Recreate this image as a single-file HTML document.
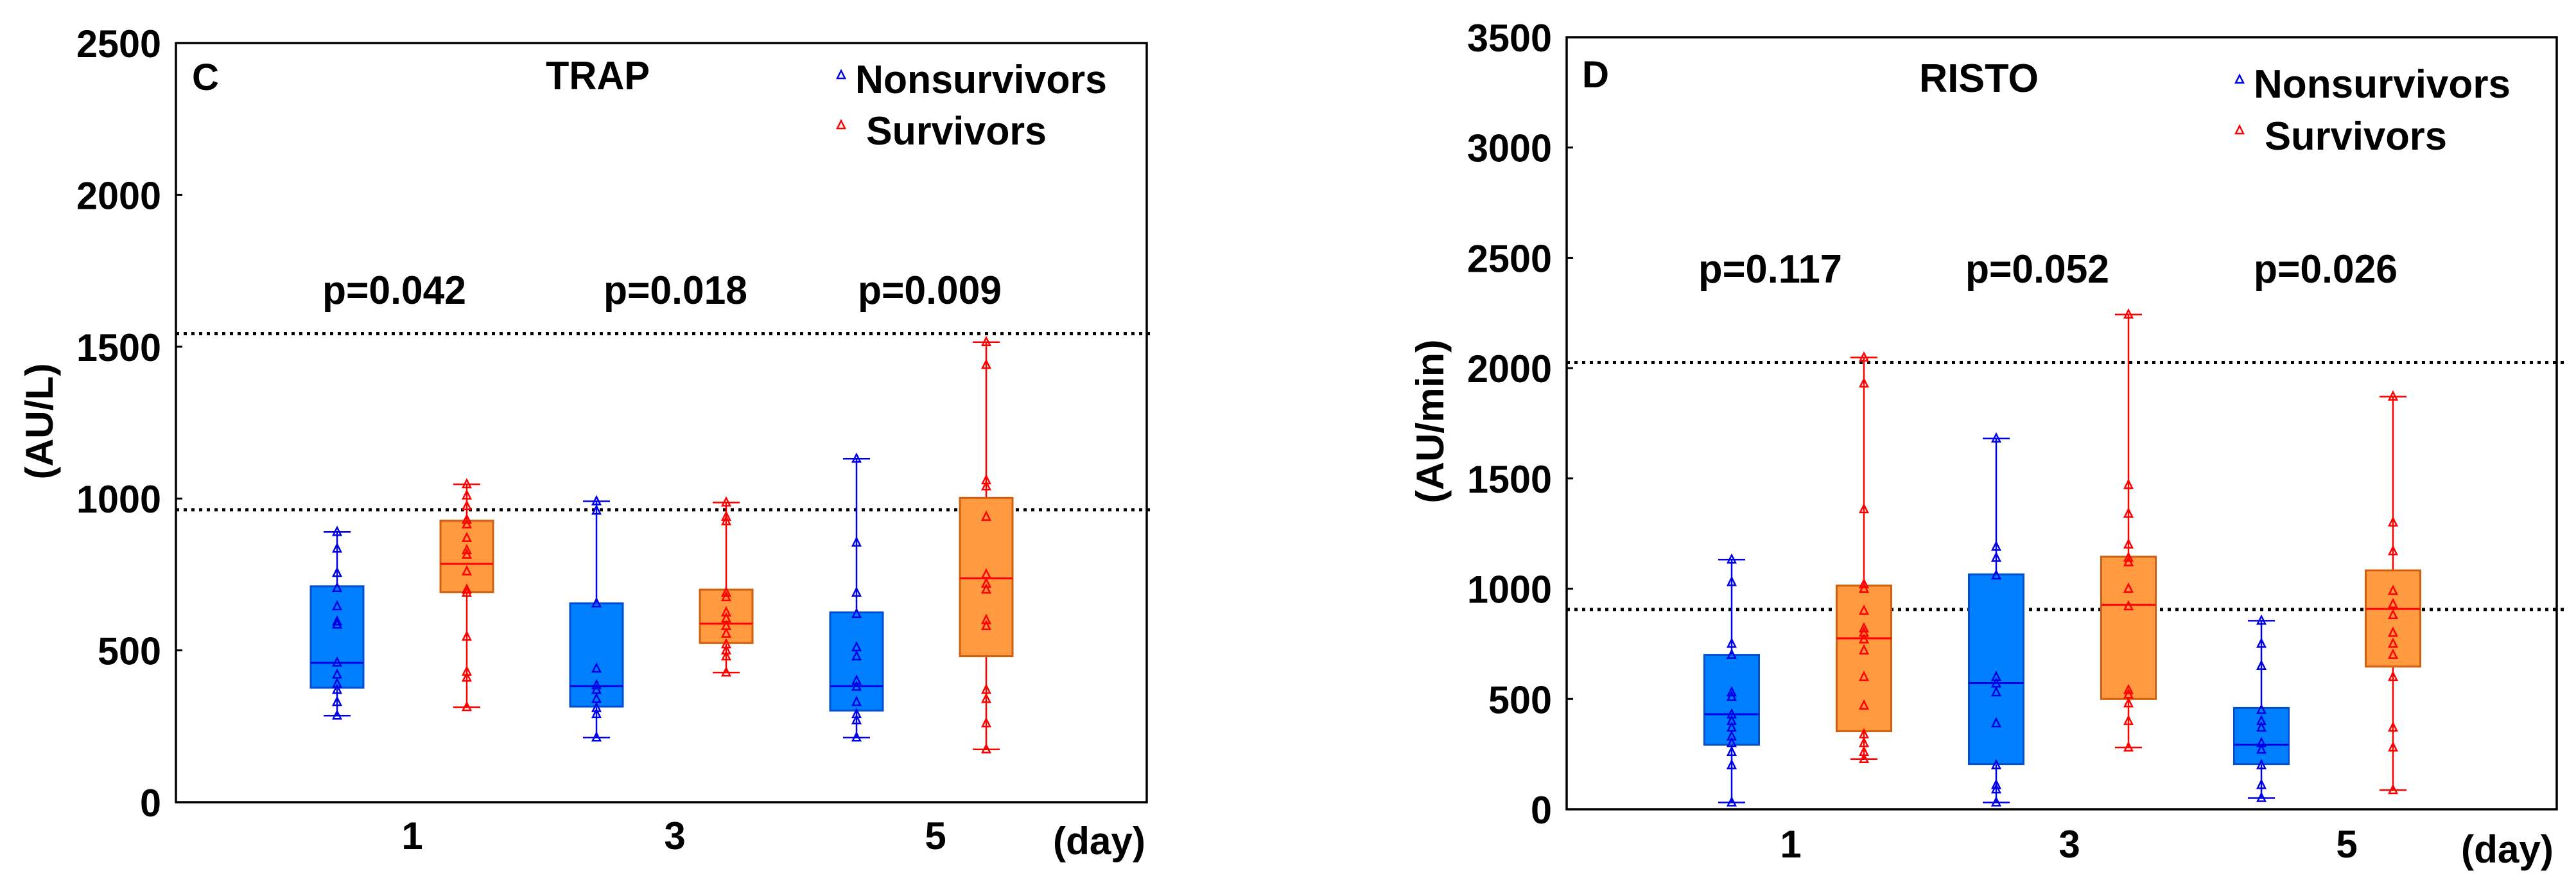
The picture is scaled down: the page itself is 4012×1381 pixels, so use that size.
<!DOCTYPE html>
<html><head><meta charset="utf-8"><style>
html,body{margin:0;padding:0;background:#fff;overflow:hidden}
svg{display:block}
text{font-family:"Liberation Sans",sans-serif;font-weight:bold;fill:#000}
</style></head><body>
<svg id="chart" width="4012" height="1381" viewBox="0 0 4012 1381" xmlns="http://www.w3.org/2000/svg"></svg>
<script>
// ---- Panel C (TRAP) data ----
const daysC = ["1","3","5"];
const yTicksC = [0,500,1000,1500,2000,2500];
const pLabelsC = ["p=0.042","p=0.018","p=0.009"];
const refLinesC = [1543,963];
const nonBoxC = [[377,459,711],[315,382,655],[302,382,625]];
const nonWhiskC = [[285,890],[213,991],[213,1131]];
const nonPtsC = [[890,835,755,705,645,595,585,460,420,390,370,330,285],[991,960,655,440,385,370,340,310,290,213],[1131,855,690,620,510,480,400,380,330,290,270,213]];
const surBoxC = [[692,785,927],[524,588,700],[481,737,1002]];
const surWhiskC = [[313,1047],[427,987],[174,1515]];
const surPtsC = [[1047,1010,975,930,915,870,830,815,760,700,690,545,430,410,313],[987,940,925,690,675,625,605,580,555,520,500,480,427],[1515,1440,1060,1040,940,750,720,700,600,580,370,340,260,174]];
// ---- Panel D (RISTO) data ----
const daysD = ["1","3","5"];
const yTicksD = [0,500,1000,1500,2000,2500,3000,3500];
const pLabelsD = ["p=0.117","p=0.052","p=0.026"];
const refLinesD = [2025,906];
const nonBoxD = [[293,431,700],[205,572,1065],[205,293,459]];
const nonWhiskD = [[31,1132],[31,1681],[51,855]];
const nonPtsD = [[1132,1030,750,700,530,510,430,400,370,330,300,260,200,31],[1681,1190,1140,1060,600,570,530,390,200,110,90,31],[855,750,650,450,400,370,300,270,200,110,51]];
const surBoxD = [[354,775,1014],[500,927,1145],[647,908,1083]];
const surWhiskD = [[228,2048],[280,2243],[87,1871]];
const surPtsD = [[2048,1930,1360,1020,1000,900,820,800,770,720,600,470,340,300,260,228],[2243,1470,1340,1200,1140,1120,1000,920,540,520,480,400,280],[1871,1300,1170,990,930,880,800,750,700,600,370,280,87]];

const NS="http://www.w3.org/2000/svg";
const svg=document.getElementById('chart');
function mk(tag,attrs,parent){const e=document.createElementNS(NS,tag);for(const k in attrs)e.setAttribute(k,attrs[k]);(parent||svg).appendChild(e);return e;}
function txt(s,x,y,size,len,anchor,parent){const t=mk('text',{x:x,y:y,'font-size':size,'text-anchor':anchor||'middle'},parent);if(len){t.setAttribute('textLength',len);t.setAttribute('lengthAdjust','spacingAndGlyphs');}t.textContent=s;return t;}
function tri(x,y,color,g){return mk('path',{d:`M${x},${y-7} L${x+6},${y+5} L${x-6},${y+5} Z`,fill:'none',stroke:color,'stroke-width':2.5},g);}

function panel(P){
  const g=mk('g',{});
  
  
  const y=v=>P.bottom-v/P.yMax*(P.bottom-P.top);
  P.yTicks.forEach(v=>{
    const l=mk('line',{x1:P.left,x2:P.left+10,y1:y(v),y2:y(v),stroke:'#000','stroke-width':3},g);
    
    
    const t=txt(String(v),P.left-23,y(v)+22,60,String(v).length*33,'end',g);
    
    
  });
  P.refLines.forEach(v=>{
    const l=mk('line',{x1:P.left,x2:P.right+12,y1:y(v),y2:y(v),stroke:'#000','stroke-width':5,'stroke-dasharray':'5 7'},g);
    
    
  });
  const groups=[[P.nonBox,P.nonWhisk,P.nonPts,P.nonX,'#0080ff','#0050d0','#0000e6','nonsurvivors'],[P.surBox,P.surWhisk,P.surPts,P.surX,'#ff9a40','#d0600f','#ff0000','survivors']];
  groups.forEach(([box,wh,pts,xs,fill,stroke,pc,nm])=>{
    box.forEach((b,i)=>{
      const cx=xs[i],hw=P.bw/2;
      const wl=mk('line',{x1:cx,x2:cx,y1:y(wh[i][0]),y2:y(wh[i][1]),stroke:pc,'stroke-width':2.5},g);
      
      
      [0,1].forEach(k=>{const c=mk('line',{x1:cx-21,x2:cx+21,y1:y(wh[i][k]),y2:y(wh[i][k]),stroke:pc,'stroke-width':2.5},g);
        
        });
      const r=mk('rect',{x:cx-hw,y:y(b[2]),width:P.bw,height:y(b[0])-y(b[2]),fill:fill,stroke:stroke,'stroke-width':3},g);
      
      
      const m=mk('line',{x1:cx-hw,x2:cx+hw,y1:y(b[1]),y2:y(b[1]),stroke:pc,'stroke-width':3},g);
      
      
      pts[i].forEach(v=>{const t=tri(cx,y(v),pc,g);
        
        });
    });
  });
  const fr=mk('rect',{x:P.left,y:P.top,width:P.right-P.left,height:P.bottom-P.top,fill:'none',stroke:'#000','stroke-width':3.5},g);
  
  
  P.days.forEach((d,i)=>{const t=txt(d,P.dayX[i],P.labY+22,60,null,'middle',g);
    
    });
  const dl=txt('(day)',P.dayLabX,P.labY+30,60,144,'middle',g);
  
  
  P.pLabels.forEach((s,i)=>{const t=txt(s,P.pX[i],P.pY+22,62,224,'middle',g);
    
    });
  const lt=txt(P.letter,P.letterX,P.letterY+21,58,42,'middle',g);
  
  
  const tt=txt(P.title,P.titleX,P.titleY+22,62,P.titleW,'middle',g);
  
  
  const t1=tri(P.legX,P.legY1-6,'#0000e6',g);
  
  
  const l1=txt('Nonsurvivors',P.legX+22,P.legY1+22,62,P.legW1,'start',g);
  
  
  const t2=tri(P.legX,P.legY2-8,'#ff0000',g);
  
  
  const l2=txt('Survivors',P.legX+39,P.legY2+22,62,P.legW2,'start',g);
  
  
  const yt=mk('text',{x:0,y:0,'font-size':60,'text-anchor':'middle',transform:`translate(${P.ytX+21},${P.ytY}) rotate(-90)`,textLength:P.ytW,lengthAdjust:'spacingAndGlyphs'},g);
  yt.textContent=P.yTitle;
  
  
}

panel({name:'panel-c-trap',left:274,right:1786,top:67,bottom:1249,yMax:2500,yTicks:yTicksC,refLines:refLinesC,
  nonBox:nonBoxC,nonWhisk:nonWhiskC,nonPts:nonPtsC,surBox:surBoxC,surWhisk:surWhiskC,surPts:surPtsC,
  nonX:[525,929,1334],surX:[727,1131,1536],bw:82,days:daysC,dayX:[642,1051,1457],labY:1300,dayLabX:1712,
  pLabels:pLabelsC,pX:[614,1052,1448],pY:451,letter:'C',letterX:320,letterY:119,title:'TRAP',titleX:931,titleY:117,titleW:162,
  legX:1310,legY1:123,legY2:203,legW1:392,legW2:281,yTitle:'(AU/L)',ytX:61,ytY:656,ytW:181});
panel({name:'panel-d-risto',left:2440,right:3982,top:58,bottom:1260,yMax:3500,yTicks:yTicksD,refLines:refLinesD,
  nonBox:nonBoxD,nonWhisk:nonWhiskD,nonPts:nonPtsD,surBox:surBoxD,surWhisk:surWhiskD,surPts:surPtsD,
  nonX:[2697,3109,3522],surX:[2903,3315,3727],bw:85,days:daysD,dayX:[2789,3223,3655],labY:1313,dayLabX:3905,
  pLabels:pLabelsD,pX:[2757,3173,3622],pY:418,letter:'D',letterX:2485,letterY:115,title:'RISTO',titleX:3082,titleY:121,titleW:186,
  legX:3488,legY1:130,legY2:211,legW1:400,legW2:284,yTitle:'(AU/min)',ytX:2227,ytY:656,ytW:255});
</script>
</body></html>
